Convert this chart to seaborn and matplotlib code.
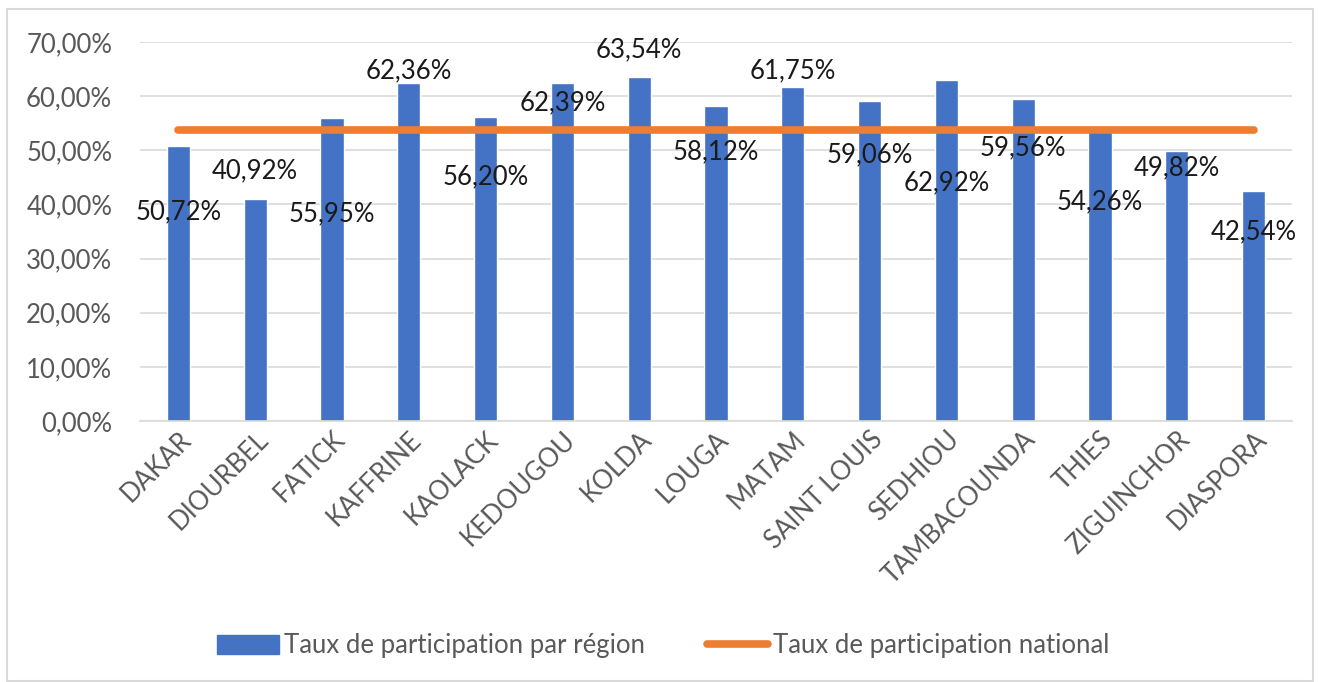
import matplotlib
matplotlib.use("Agg")
import matplotlib.pyplot as plt
import matplotlib.patches as mpatches
from matplotlib.lines import Line2D
from matplotlib.ticker import FuncFormatter, MultipleLocator
import numpy as np
import pandas as pd
import seaborn as sns

regions = ["DAKAR", "DIOURBEL", "FATICK", "KAFFRINE", "KAOLACK", "KEDOUGOU", "KOLDA",
           "LOUGA", "MATAM", "SAINT LOUIS", "SEDHIOU", "TAMBACOUNDA", "THIES",
           "ZIGUINCHOR", "DIASPORA"]
taux_region = [50.72, 40.92, 55.95, 62.36, 56.20, 62.39, 63.54, 58.12, 61.75, 59.06,
               62.92, 59.56, 54.26, 49.82, 42.54]
taux_national = 53.8
series_names = ["Taux de participation par région", "Taux de participation national"]

# vertical centre of each data label (Excel "best fit" placement), in axis units
label_pos = [38.6, 46.3, 38.2, 64.6, 45.1, 58.8, 68.6, 49.8, 64.6, 49.1, 44.0, 50.4,
             40.5, 46.7, 35.0]

sns.set_theme(style="white")
plt.rcParams["font.family"] = ["Lato", "DejaVu Sans"]

BLUE = "#4472C4"
ORANGE = "#ED7D31"
GRAY = "#595959"
FS = 18.5

fig = plt.figure(figsize=(13.27, 6.82), dpi=100)
ax = fig.add_axes([140 / 1327, 1 - 421 / 682, (1292 - 140) / 1327, (421 - 42) / 682])

df = pd.DataFrame({"region": regions, "taux": taux_region})
sns.barplot(data=df, x="region", y="taux", color=BLUE, width=0.3, saturation=1,
            ax=ax, zorder=2)
pos = np.arange(len(regions))
sns.lineplot(x=pos, y=[taux_national] * len(regions), color=ORANGE, linewidth=5.5,
             ax=ax, zorder=3, solid_capstyle="round")

for i, (v, ly) in enumerate(zip(taux_region, label_pos)):
    ax.text(i, ly, f"{v:.2f}%".replace(".", ","), ha="center", va="center",
            fontsize=FS, color="#1a1a1a", zorder=4)

ax.set_xlim(-0.5, len(regions) - 0.5)
ax.set_ylim(0, 70)
ax.yaxis.set_major_locator(MultipleLocator(10))
ax.yaxis.set_major_formatter(FuncFormatter(lambda v, p: f"{v:.2f}%".replace(".", ",")))
ax.grid(axis="y", color="#D9D9D9", linewidth=1.2, zorder=0)
ax.set_axisbelow(True)
for s in ["top", "right", "left"]:
    ax.spines[s].set_visible(False)
ax.spines["bottom"].set_color("#D9D9D9")
ax.spines["bottom"].set_linewidth(1.2)
ax.set_xlabel("")
ax.set_ylabel("")
ax.tick_params(axis="y", labelsize=FS, colors=GRAY, length=0, pad=20)
ax.tick_params(axis="x", labelsize=FS, colors=GRAY, length=0, pad=4)
plt.setp(ax.get_xticklabels(), rotation=45, ha="right", rotation_mode="anchor")

handles = [mpatches.Patch(color=BLUE, label=series_names[0]),
           Line2D([0], [0], color=ORANGE, linewidth=5.5, label=series_names[1])]
leg = fig.legend(handles=handles, loc="center", bbox_to_anchor=(0.5, 1 - 646 / 682),
                 ncol=2, frameon=False, fontsize=FS, handlelength=2.4,
                 handleheight=0.75, columnspacing=2.4, handletextpad=0.2)
for t in leg.get_texts():
    t.set_color(GRAY)

fig.patches.append(mpatches.Rectangle((7 / 1327, 0.002), 1 - 21 / 1327, 1 - 9 / 682 - 0.002,
                                      transform=fig.transFigure, fill=False,
                                      edgecolor="#D9D9D9", linewidth=1.5))

fig.savefig("out.png", dpi=100, facecolor="white")
